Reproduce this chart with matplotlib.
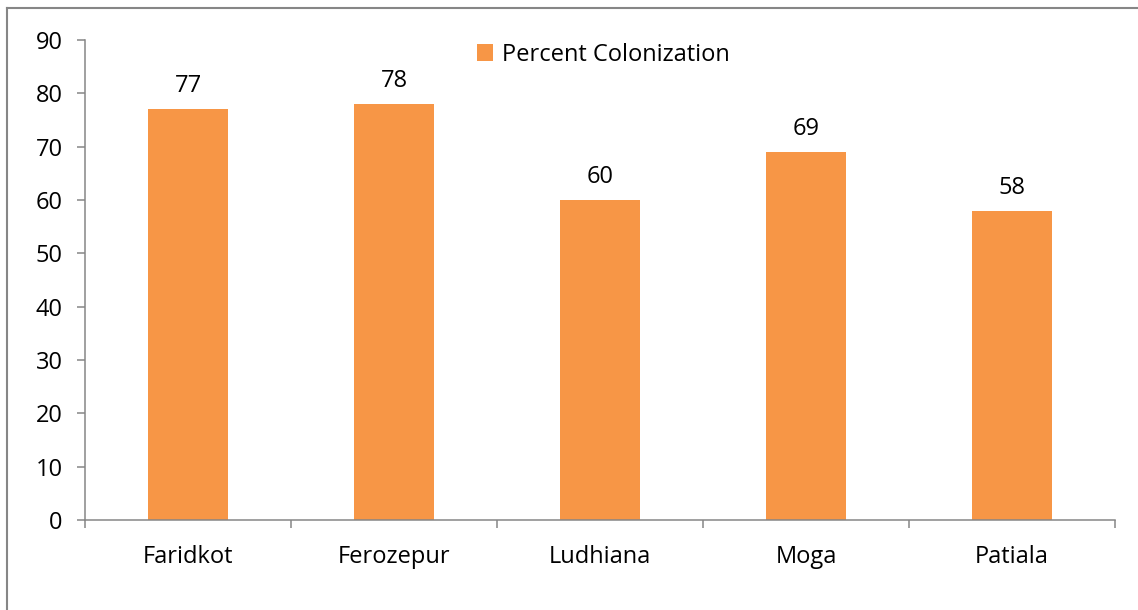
import numpy as np
import matplotlib.pyplot as plt
from matplotlib.lines import Line2D

districts = ['Faridkot', 'Ferozepur', 'Ludhiana', 'Moga', 'Patiala']
colonization = [77, 78, 60, 69, 58]
yticks = [0, 10, 20, 30, 40, 50, 60, 70, 80, 90]

plt.rcParams['font.family'] = ['Open Sans', 'DejaVu Sans']
fs = 17

fig = plt.figure(figsize=[11.38, 6.10], dpi=100)
ax = fig.add_axes([85 / 1138, 1 - 520 / 610, 1030 / 1138, 480 / 610])

x = np.arange(len(districts))
bars = ax.bar(x, colonization, width=0.39, color='#F79646', label='Percent Colonization')

for xi, v in zip(x, colonization):
    ax.annotate(str(v), (xi, v), xytext=(0, 8), textcoords='offset points',
                ha='center', va='bottom', fontsize=fs)

gray = '#868686'
ax.set_xlim(-0.5, len(districts) - 0.5)
ax.set_ylim(0, 90)
ax.set_yticks(yticks)
ax.set_xticks(x)
ax.set_xticklabels(districts)
ax.set_xticks(np.arange(len(districts) + 1) - 0.5, minor=True)

for s in ['top', 'right']:
    ax.spines[s].set_visible(False)
for s in ['left', 'bottom']:
    ax.spines[s].set_color(gray)
    ax.spines[s].set_linewidth(1.1)

ax.tick_params(axis='y', direction='out', length=6, width=1.1, color=gray,
               labelsize=fs, pad=10)
ax.tick_params(axis='x', which='major', length=0, labelsize=fs, pad=18)
ax.tick_params(axis='x', which='minor', direction='out', length=6, width=1.1, color=gray)

fig.legend(handles=[bars], labels=['Percent Colonization'], loc='center',
           bbox_to_anchor=(603 / 1138, 1 - 55 / 610), frameon=False, fontsize=fs,
           handlelength=0.7, handleheight=0.7, handletextpad=0.35)

# outer chart border (top and left visible)
fig.add_artist(Line2D([7 / 1138, 7 / 1138], [0, 1 - 8 / 610], color=gray, lw=1.5,
                      transform=fig.transFigure))
fig.add_artist(Line2D([7 / 1138, 1], [1 - 8 / 610, 1 - 8 / 610], color=gray, lw=1.5,
                      transform=fig.transFigure))

plt.savefig('out.png', dpi=100, facecolor='white')
